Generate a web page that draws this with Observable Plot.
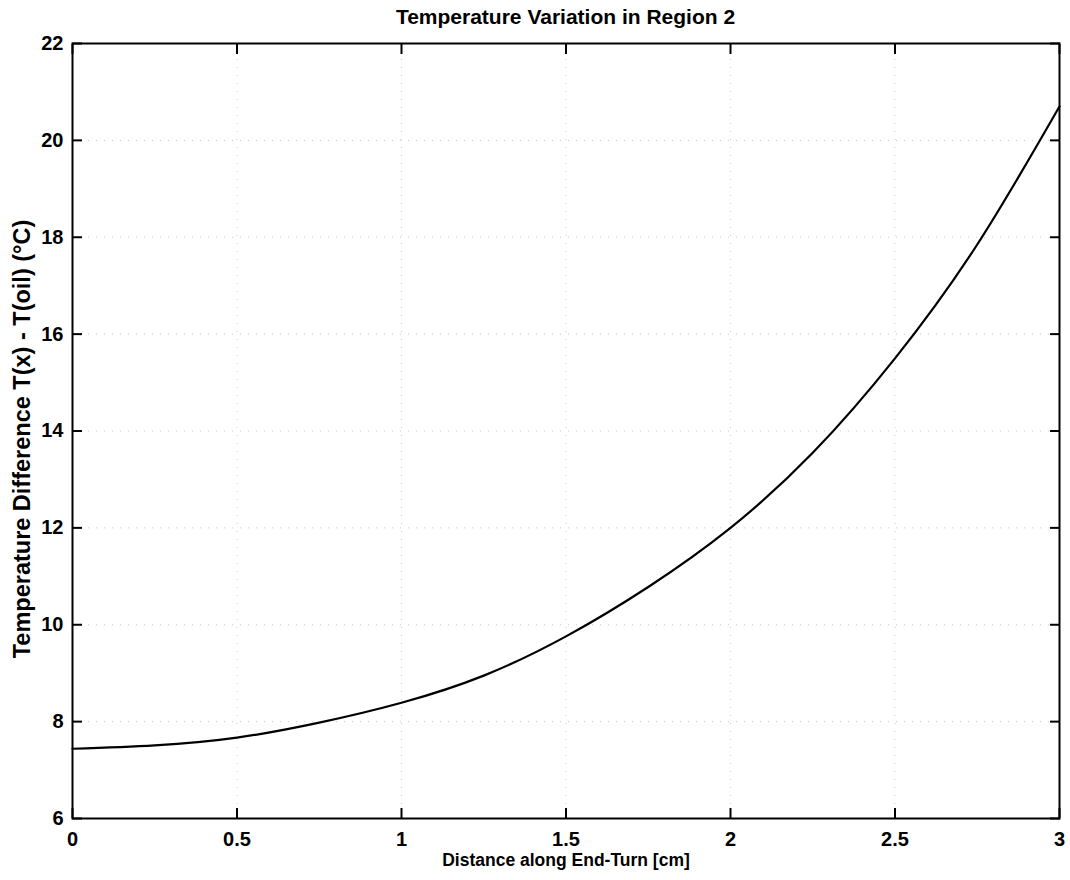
<!DOCTYPE html>
<html>
<head>
<meta charset="utf-8">
<script src="https://cdn.jsdelivr.net/npm/d3@7"></script>
<script src="https://cdn.jsdelivr.net/npm/@observablehq/plot@0.6"></script>
<style>
  html, body { margin: 0; padding: 0; background: #fff; }
  body { width: 1070px; height: 880px; overflow: hidden; font-family: "Liberation Sans", Arial, Helvetica, sans-serif; }
  #title { height: 32px; box-sizing: border-box; padding: 5px 11px 0 72px; text-align: center; font-weight: bold; font-size: 21px; color: #000; line-height: 24px; }
  svg { display: block; }
</style>
</head>
<body>
<div id="title">Temperature Variation in Region 2</div>
<div id="chart"></div>
<script>
const distance = [0, 0.25, 0.5, 0.75, 1.0, 1.25, 1.5, 1.75, 2.0, 2.25, 2.5, 2.75, 3.0];
const tempDiff = [7.44, 7.51, 7.67, 7.98, 8.39, 8.95, 9.76, 10.78, 12.0, 13.55, 15.5, 17.85, 20.7];
const xTicks = [0, 0.5, 1, 1.5, 2, 2.5, 3];
const yTicks = [6, 8, 10, 12, 14, 16, 18, 20, 22];
const xLabel = "Distance along End-Turn [cm]";
const yLabel = "Temperature Difference T(x) - T(oil) (°C)";

const data = distance.map((d, i) => ({x: d, y: tempDiff[i]}));
const fmt = d => String(d);

const chart = Plot.plot({
  width: 1070,
  height: 848,
  marginLeft: 72,
  marginRight: 11,
  marginTop: 11,
  marginBottom: 62,
  style: {fontFamily: "'Liberation Sans', Arial, Helvetica, sans-serif", fontWeight: "bold", color: "#000", background: "#fff"},
  x: {domain: [0, 3]},
  y: {domain: [6, 22]},
  marks: [
    Plot.gridX(xTicks, {stroke: "#888", strokeOpacity: 0.45, strokeDasharray: "1,7"}),
    Plot.gridY(yTicks, {stroke: "#888", strokeOpacity: 0.45, strokeDasharray: "1,7"}),
    Plot.axisX(xTicks, {anchor: "bottom", tickSize: -10, strokeWidth: 2, text: null, label: null}),
    Plot.axisX(xTicks, {anchor: "top", tickSize: -10, strokeWidth: 2, text: null, label: null}),
    Plot.axisY(yTicks, {anchor: "left", tickSize: -10, strokeWidth: 2, text: null, label: null}),
    Plot.axisY(yTicks, {anchor: "right", tickSize: -10, strokeWidth: 2, text: null, label: null}),
    Plot.axisX(xTicks, {anchor: "bottom", tickSize: 0, tickPadding: 13, fontSize: 20, fontWeight: "bold", tickFormat: fmt, label: null}),
    Plot.axisY(yTicks, {anchor: "left", tickSize: 0, tickPadding: 9, fontSize: 20, fontWeight: "bold", tickFormat: fmt, label: null}),
    Plot.text([xLabel], {text: d => d, frameAnchor: "bottom", textAnchor: "middle", lineAnchor: "middle", dy: 42, fontSize: 17.5, fontWeight: "bold", fill: "#000"}),
    Plot.text([yLabel], {text: d => d, frameAnchor: "left", textAnchor: "middle", lineAnchor: "middle", dx: -50, dy: 8, rotate: -90, fontSize: 23.5, fontWeight: "bold", fill: "#000"}),
    Plot.frame({stroke: "#000", strokeWidth: 2}),
    Plot.line(data, {x: "x", y: "y", curve: "natural", stroke: "#000", strokeWidth: 2.2})
  ]
});
document.getElementById("chart").appendChild(chart);
</script>
</body>
</html>
